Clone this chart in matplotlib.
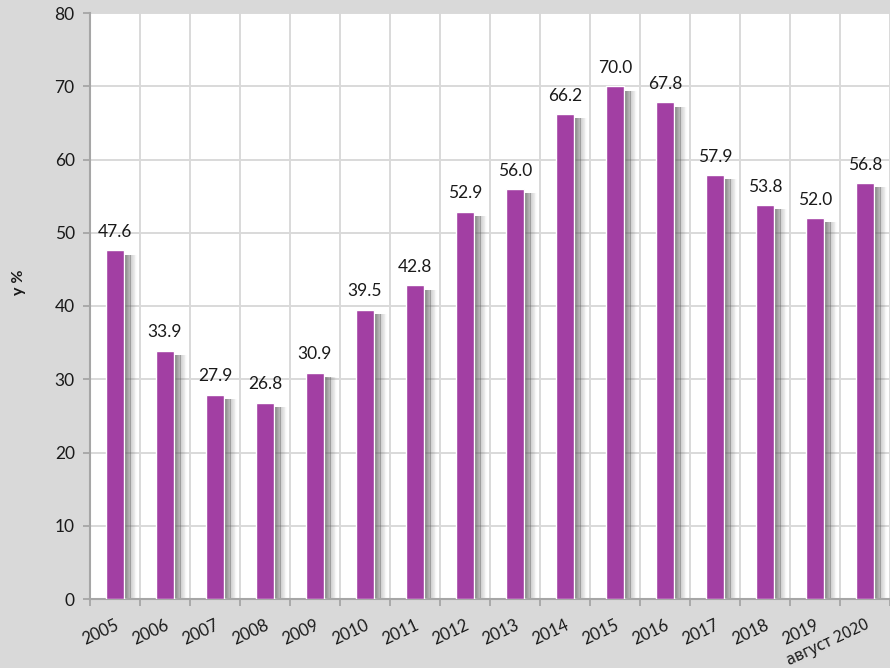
import matplotlib
matplotlib.use("Agg")
import matplotlib.pyplot as plt
import numpy as np

plt.rcParams['font.family'] = ['Lato', 'Noto Sans', 'DejaVu Sans']

years = ['2005', '2006', '2007', '2008', '2009', '2010', '2011', '2012',
         '2013', '2014', '2015', '2016', '2017', '2018', '2019', 'август 2020']
values = [47.6, 33.9, 27.9, 26.8, 30.9, 39.5, 42.8, 52.9,
          56.0, 66.2, 70.0, 67.8, 57.9, 53.8, 52.0, 56.8]

bar_color = '#a23fa3'
bg = '#d9d9d9'
grid_color = '#d9d9d9'
text_color = '#1a1a1a'

fig = plt.figure(figsize=(8.9, 6.68), dpi=100, facecolor=bg)
ax = fig.add_axes([90 / 890, 69 / 668, 800 / 890, 586 / 668])
ax.set_facecolor('white')

x = np.arange(len(values))
width = 0.36

# soft drop shadow to the right of every bar, fading out
n_steps = 16
shadow_w = 0.26
for k in range(n_steps):
    alpha = 0.85 * (1 - k / n_steps) ** 1.4
    ax.bar(x + width / 2 + shadow_w * (k + 0.5) / n_steps,
           np.array(values) - 0.6, width=shadow_w / n_steps * 1.05,
           color='#5a5a5a', alpha=alpha, linewidth=0, zorder=2)

ax.bar(x, values, width=width, color=bar_color, edgecolor='white',
       linewidth=1.0, zorder=3)

for xi, v in zip(x, values):
    ax.text(xi, v + 1.4, f'{v:.1f}', ha='center', va='bottom',
            fontsize=12.5, color=text_color, zorder=4)

ax.set_xlim(-0.5, len(values) - 0.5)
ax.set_ylim(0, 80)
ax.set_yticks(range(0, 81, 10))

# category boundaries carry the ticks and vertical gridlines
ax.set_xticks(np.arange(-0.5, len(values)), minor=True)
ax.set_xticks(x)
labels = ax.set_xticklabels(years, rotation=25, ha='right', va='top',
                            rotation_mode='anchor', fontsize=12,
                            color=text_color)
labels[-1].set_fontfamily('Noto Sans')
labels[-1].set_fontsize(11.5)
ax.tick_params(axis='x', which='major', length=0, pad=13)
ax.tick_params(axis='x', which='minor', length=5, width=1.3, color='#a6a6a6')
ax.tick_params(axis='y', length=5, width=1.3, color='#a6a6a6',
               labelsize=12.5, labelcolor=text_color, pad=6)

ax.grid(axis='y', which='major', color=grid_color, linewidth=1.4, zorder=0)
ax.grid(axis='x', which='minor', color=grid_color, linewidth=1.4, zorder=0)
ax.grid(axis='x', which='major', visible=False)
ax.set_axisbelow(True)

for side in ('top', 'right'):
    ax.spines[side].set_visible(False)
for side in ('left', 'bottom'):
    ax.spines[side].set_color('#a6a6a6')
    ax.spines[side].set_linewidth(1.5)

ax.set_ylabel('у %', fontsize=11.5, fontweight='bold', color=text_color)
ax.yaxis.set_label_coords(-64 / 800, (599 - 282) / 586)

fig.savefig('out.png', dpi=100, facecolor=bg)
